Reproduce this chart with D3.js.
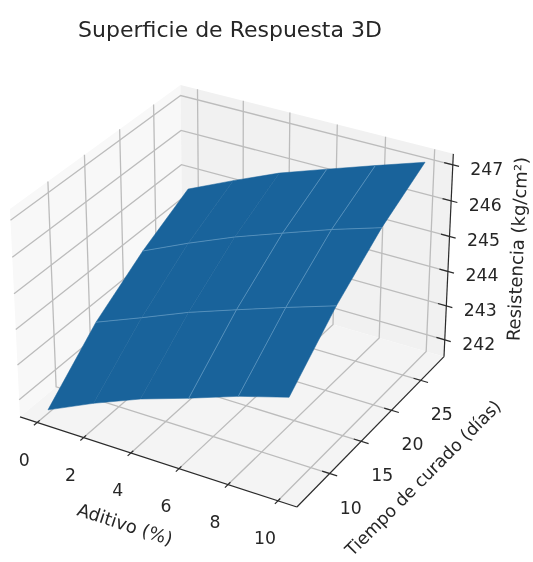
<!DOCTYPE html>
<html>
<head>
<meta charset="utf-8">
<script src="https://cdn.jsdelivr.net/npm/d3@7"></script>
<style>
  html, body { margin: 0; background: #fff; }
  svg { display: block; filter: blur(0.55px); }
  text { font-family: "DejaVu Sans", sans-serif; fill: #262626; }
</style>
</head>
<body>
<div id="chart"></div>
<script>
// values
const aditivo = [0, 2, 4, 6, 8, 10];
const tiempo = [6.5, 13.5, 20.5, 27.5];
const resistencia = [ // one row per tiempo, one column per aditivo
  [241.6, 242.22, 242.77, 243.22, 243.7, 244.1],
  [242.95, 243.48, 244.03, 244.5, 244.96, 245.4],
  [243.9, 244.5, 245.05, 245.53, 246.0, 246.42],
  [244.65, 245.25, 245.82, 246.28, 246.73, 247.17]
];
const xTicks = [0, 2, 4, 6, 8, 10];
const yTicks = [10, 15, 20, 25];
const zTicks = [242, 243, 244, 245, 246, 247];
const xLims = [-0.75, 10.75];
const yLims = [5, 29.1];
const zLims = [241.5, 247.3];
const xSeams = [6, 8]; // only these grid lines show on the surface
const ySeams = [13.5, 20.5];

const width = 533, height = 562;
const svg = d3.select("#chart").append("svg").attr("width", width).attr("height", height);

// data -> unit box
const ux = d3.scaleLinear().domain(xLims).range([0, 1]);
const uy = d3.scaleLinear().domain(yLims).range([0, 1]);
const uz = d3.scaleLinear().domain(zLims).range([0, 1]);

// same camera as a default mplot3d axes: elev 30, azim -60, box 4:4:3
const elev = 30 * Math.PI / 180, azim = -60 * Math.PI / 180, dist = 10;
const box = [4, 4, 3].map(d => d * 1.8294640721620434 * 25 / 24 / Math.hypot(4, 4, 3));
const centre = box.map(d => d / 2);
const eye = [
  centre[0] + dist * Math.cos(elev) * Math.cos(azim),
  centre[1] + dist * Math.cos(elev) * Math.sin(azim),
  centre[2] + dist * Math.sin(elev)
];
const cross = (a, b) => [a[1]*b[2]-a[2]*b[1], a[2]*b[0]-a[0]*b[2], a[0]*b[1]-a[1]*b[0]];
const dot = (a, b) => a[0]*b[0] + a[1]*b[1] + a[2]*b[2];
const unit = a => { const n = Math.hypot(...a); return a.map(d => d / n); };
const w = unit(eye.map((d, i) => d - centre[i]));
const u = unit(cross([0, 0, 1], w));
const v = cross(w, u);

function camera(x, y, z) {
  const p = [ux(x) * box[0], uy(y) * box[1], uz(z) * box[2]].map((d, i) => d - eye[i]);
  const depth = -dot(p, w);
  return [dot(p, u) / depth, dot(p, v) / depth];
}

// camera -> pixels, fitted on the pane corners
const sx = d3.scaleLinear()
  .domain([camera(xLims[0], yLims[0], zLims[0])[0], camera(xLims[1], yLims[1], zLims[0])[0]])
  .range([20, 444]);
const sy = d3.scaleLinear()
  .domain([camera(xLims[1], yLims[0], zLims[0])[1], camera(xLims[0], yLims[1], zLims[1])[1]])
  .range([507, 85]);

function project(x, y, z) {
  const c = camera(x, y, z);
  return [sx(c[0]), sy(c[1])];
}
const line = d3.line();
const [x0, x1] = xLims, [y0, y1] = yLims, [z0, z1] = zLims;

// panes
const panes = [
  { fill: "#f8f8f8", pts: [[x0,y0,z0],[x0,y1,z0],[x0,y1,z1],[x0,y0,z1]] },
  { fill: "#f1f1f1", pts: [[x0,y1,z0],[x1,y1,z0],[x1,y1,z1],[x0,y1,z1]] },
  { fill: "#f4f4f4", pts: [[x0,y0,z0],[x1,y0,z0],[x1,y1,z0],[x0,y1,z0]] }
];
svg.append("g").selectAll("path").data(panes).join("path")
  .attr("fill", d => d.fill)
  .attr("d", d => line(d.pts.map(p => project(...p))) + "Z");

// grid
const grid = [
  ...xTicks.map(t => [[t,y0,z0],[t,y1,z0],[t,y1,z1]]),
  ...yTicks.map(t => [[x1,t,z0],[x0,t,z0],[x0,t,z1]]),
  ...zTicks.map(t => [[x1,y1,t],[x0,y1,t],[x0,y0,t]])
];
svg.append("g").selectAll("path").data(grid).join("path")
  .attr("fill", "none")
  .attr("stroke", "#bcbcbc")
  .attr("stroke-width", 1.3)
  .attr("d", d => line(d.map(p => project(...p))));

// axis lines and ticks
const axisLines = [
  [[x0,y0,z0],[x1,y0,z0]],
  [[x1,y0,z0],[x1,y1,z0]],
  [[x1,y1,z0],[x1,y1,z1]]
];
const tickMarks = [
  ...xTicks.map(t => [[t,y0+0.35,z0],[t,y0-0.45,z0]]),
  ...yTicks.map(t => [[x1+0.3,t,z0],[x1-0.3,t,z0]]),
  ...zTicks.map(t => [[x1-0.35,y1,t],[x1+0.25,y1,t]])
];
svg.append("g").selectAll("path").data(axisLines.concat(tickMarks)).join("path")
  .attr("fill", "none")
  .attr("stroke", "#2b2b2b")
  .attr("stroke-width", 1.2)
  .attr("d", d => line(d.map(p => project(...p))));

// surface
const cells = [];
for (let j = 0; j < tiempo.length - 1; j++) {
  for (let i = 0; i < aditivo.length - 1; i++) {
    cells.push([
      [aditivo[i], tiempo[j], resistencia[j][i]],
      [aditivo[i+1], tiempo[j], resistencia[j][i+1]],
      [aditivo[i+1], tiempo[j+1], resistencia[j+1][i+1]],
      [aditivo[i], tiempo[j+1], resistencia[j+1][i]]
    ]);
  }
}
const surfaceColor = "#19639b";
svg.append("g").selectAll("path").data(cells).join("path")
  .attr("fill", surfaceColor)
  .attr("stroke", surfaceColor)
  .attr("stroke-width", 0.5)
  .attr("stroke-linejoin", "round")
  .attr("d", d => line(d.map(p => project(...p))) + "Z");

// lighter seams
const seams = [
  ...ySeams.map(t => {
    const j = tiempo.indexOf(t);
    return aditivo.map((a, i) => [a, t, resistencia[j][i]]);
  }),
  ...xSeams.map(a => {
    const i = aditivo.indexOf(a);
    return tiempo.map((t, j) => [a, t, resistencia[j][i]]);
  })
];
svg.append("g").selectAll("path").data(seams).join("path")
  .attr("fill", "none")
  .attr("stroke", "#5f98c2")
  .attr("stroke-width", 0.8)
  .attr("d", d => line(d.map(p => project(...p))));

// tick labels
const tickFont = 17.3;
function labels(ticks, pos, dx, dy) {
  svg.append("g").selectAll("text").data(ticks).join("text")
    .attr("x", d => pos(d)[0] + dx)
    .attr("y", d => pos(d)[1] + dy)
    .attr("text-anchor", "middle")
    .attr("dominant-baseline", "central")
    .attr("font-size", tickFont)
    .text(d => d);
}
labels(xTicks, t => project(t, y0, z0), -13, 37);
labels(yTicks, t => project(x1, t, z0), 21, 34);
labels(zTicks, t => project(x1, y1, t), 34, 4);

// titles
svg.append("text")
  .attr("x", 230).attr("y", 29)
  .attr("text-anchor", "middle").attr("dominant-baseline", "central")
  .attr("font-size", 22)
  .text("Superficie de Respuesta 3D");

const axisTitles = [
  { text: "Aditivo (%)", x: 125, y: 524, angle: 18, size: 18 },
  { text: "Tiempo de curado (días)", x: 423, y: 478, angle: -45, size: 17.4 },
  { text: "Resistencia (kg/cm²)", x: 517, y: 249, angle: -87.5, size: 18 }
];
svg.append("g").selectAll("text").data(axisTitles).join("text")
  .attr("transform", d => `translate(${d.x},${d.y}) rotate(${d.angle})`)
  .attr("text-anchor", "middle")
  .attr("dominant-baseline", "central")
  .attr("font-size", d => d.size)
  .text(d => d.text);
</script>
</body>
</html>
